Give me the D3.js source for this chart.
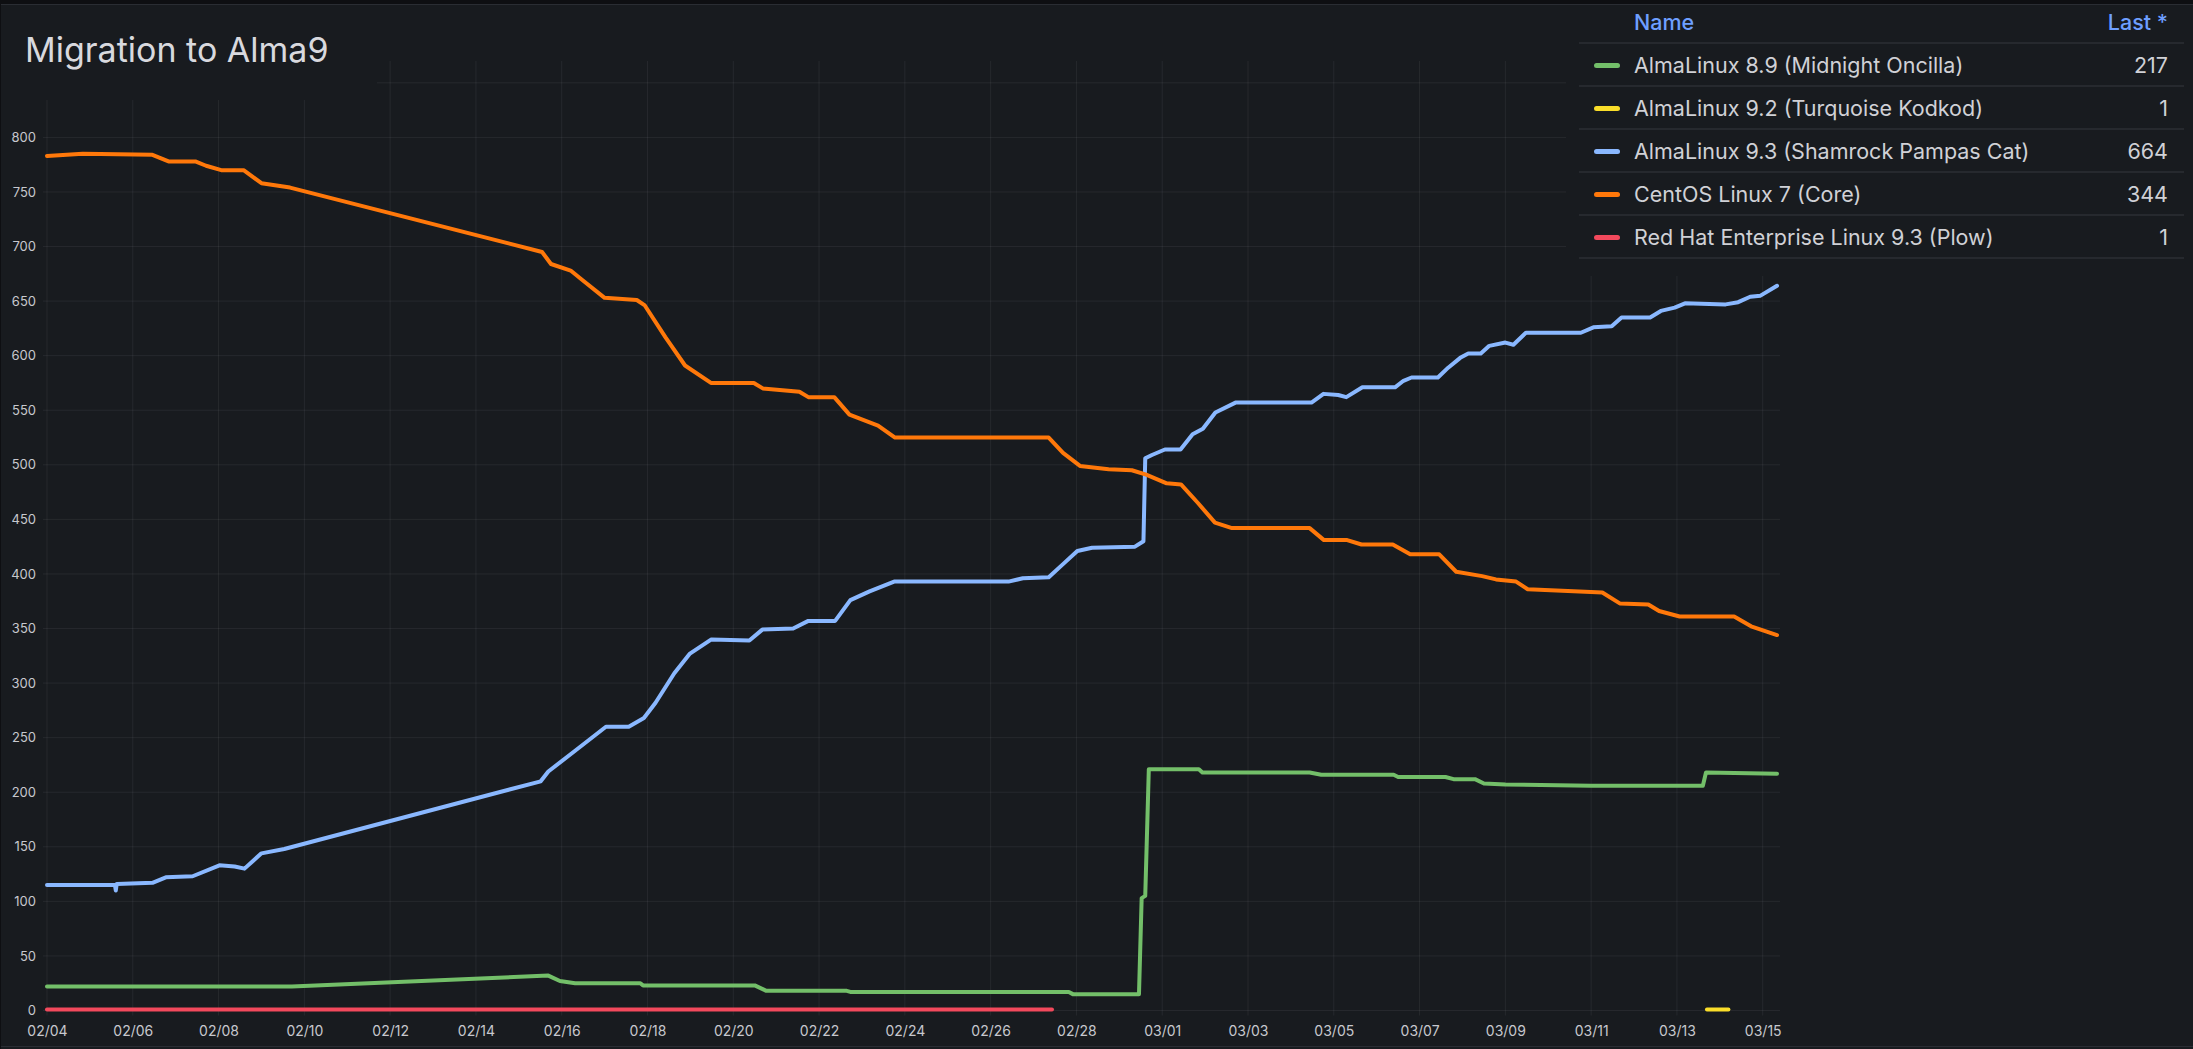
<!DOCTYPE html>
<html>
<head>
<meta charset="utf-8">
<script src="https://cdn.jsdelivr.net/npm/d3@7"></script>
<style>
html, body { margin: 0; padding: 0; background: #181b1f; overflow: hidden; }
svg { display: block; font-family: Inter, "Noto Sans", sans-serif; }
</style>
</head>
<body>
<div id="graph"></div>
<script>
// ---- data ----
var seriesNames = [
    "AlmaLinux 8.9 (Midnight Oncilla)",
    "AlmaLinux 9.2 (Turquoise Kodkod)",
    "AlmaLinux 9.3 (Shamrock Pampas Cat)",
    "CentOS Linux 7 (Core)",
    "Red Hat Enterprise Linux 9.3 (Plow)"
];
var seriesColors = ["#73bf69", "#fade2a", "#8ab8ff", "#ff780a", "#f2495c"];

var alma89Times = ["02-04 00:00","02-09 17:00","02-15 16:30","02-15 23:00","02-16 07:30","02-17 20:00","02-17 21:30",
    "02-20 12:00","02-20 18:30","02-22 15:30","02-22 17:30","02-27 19:45","02-27 22:00","02-29 11:00","02-29 12:30",
    "02-29 14:30","02-29 16:30","03-01 20:30","03-01 22:30","03-04 10:30","03-04 17:00","03-06 09:30","03-06 12:00",
    "03-07 14:30","03-07 19:00","03-08 07:00","03-08 12:00","03-09 00:00","03-11 00:00","03-13 14:30","03-13 16:15","03-15 08:00"];
var alma89Values = [22,22,32,27,25,25,23,23,18,18,17,17,15,15,103,105,221,221,218,218,216,216,214,214,212,212,208,207,206,206,218,217];

var alma92Times = ["03-13 16:48","03-14 04:48"];
var alma92Values = [1,1];

var alma93Times = ["02-04 00:00","02-05 14:00","02-05 14:30","02-05 15:00","02-06 11:00","02-06 18:30","02-07 09:30","02-08 00:30",
    "02-08 09:00","02-08 14:30","02-09 00:00","02-09 12:45","02-15 12:15","02-15 16:30","02-16 07:30","02-17 00:45","02-17 13:30",
    "02-17 22:00","02-18 04:30","02-18 15:00","02-18 23:45","02-19 11:45","02-20 09:00","02-20 16:15","02-21 09:30","02-21 18:00",
    "02-22 09:00","02-22 17:30","02-23 04:15","02-23 18:00","02-26 10:00","02-26 18:00","02-27 08:30","02-27 16:30","02-28 00:30",
    "02-28 08:45","02-29 08:45","02-29 13:30","02-29 14:30","02-29 18:15","03-01 01:30","03-01 10:15","03-01 17:00","03-01 22:45",
    "03-02 05:45","03-02 17:00","03-04 11:30","03-04 18:15","03-05 02:30","03-05 07:00","03-05 16:00","03-06 10:15","03-06 15:00",
    "03-06 19:30","03-07 10:15","03-07 16:00","03-07 22:45","03-08 03:15","03-08 10:15","03-08 15:00","03-09 00:00","03-09 04:30",
    "03-09 11:30","03-10 18:15","03-11 01:15","03-11 11:30","03-11 17:00","03-12 09:00","03-12 15:00","03-12 22:45","03-13 04:30",
    "03-14 03:15","03-14 10:15","03-14 17:00","03-14 22:45","03-15 08:00"];
var alma93Values = [115,115,110,116,117,122,123,133,132,130,144,148,210,219,238,260,260,268,282,309,327,340,339,349,350,357,
    357,376,384,393,393,396,397,409,421,424,425,430,506,509,514,514,528,533,548,557,557,565,564,562,571,571,577,580,580,589,
    598,602,602,609,612,610,621,621,626,627,635,635,641,644,648,647,649,654,655,664];

var centosTimes = ["02-04 00:00","02-04 20:00","02-06 11:00","02-06 20:00","02-07 11:00","02-07 17:00","02-08 01:30","02-08 14:00",
    "02-09 00:00","02-09 16:00","02-15 13:00","02-15 18:00","02-16 05:00","02-16 11:00","02-17 00:00","02-17 18:00","02-17 22:30",
    "02-18 10:00","02-18 21:00","02-19 11:30","02-20 11:30","02-20 16:30","02-21 13:00","02-21 18:00","02-22 08:30","02-22 17:00",
    "02-23 09:00","02-23 18:30","02-27 08:30","02-27 16:30","02-28 02:00","02-28 18:00","02-29 07:00","02-29 15:00","03-01 02:30",
    "03-01 10:30","03-01 20:00","03-02 05:30","03-02 15:00","03-04 10:30","03-04 18:30","03-05 07:30","03-05 15:30","03-06 09:00",
    "03-06 18:45","03-07 11:00","03-07 20:30","03-08 11:00","03-08 18:45","03-09 06:00","03-09 12:30","03-11 06:15","03-11 16:00",
    "03-12 08:00","03-12 14:00","03-13 01:30","03-14 08:00","03-14 17:30","03-15 08:00"];
var centosValues = [783,785,784,778,778,774,770,770,758,754,695,684,678,670,653,651,646,617,591,575,575,570,567,562,562,546,
    536,525,525,511,499,496,495,491,483,482,465,447,442,442,431,431,427,427,418,418,402,398,395,393,386,383,373,372,366,361,361,352,344];

var rhel93Times = ["02-04 00:00","02-27 10:20"];
var rhel93Values = [1,1];

var xTickLabels = ["02/04","02/06","02/08","02/10","02/12","02/14","02/16","02/18","02/20","02/22","02/24","02/26","02/28",
    "03/01","03/03","03/05","03/07","03/09","03/11","03/13","03/15"];
var yTicks = [0,50,100,150,200,250,300,350,400,450,500,550,600,650,700,750,800];
var yGrid = [0,50,100,150,200,250,300,350,400,450,500,550,600,650,700,750,800,850];

// ---- setup ----
var W = 2193, H = 1049;
var bg = "#181b1f";
var parse = d3.timeParse("%Y-%m-%d %H:%M");
function t(s) { return parse("2024-" + s); }

var plot = {left: 43, right: 1780, top: 61, bottom: 1010.5};

var x = d3.scaleTime()
    .domain([t("02-03 21:46"), t("03-15 09:40")])
    .range([plot.left, plot.right]);
var y = d3.scaleLinear()
    .domain([0, 870])
    .range([plot.bottom, plot.top]);

var series = [
    {times: alma89Times, values: alma89Values},
    {times: alma92Times, values: alma92Values},
    {times: alma93Times, values: alma93Values},
    {times: centosTimes, values: centosValues},
    {times: rhel93Times, values: rhel93Values}
].map(function(s, i) {
    return {
        name: seriesNames[i],
        color: seriesColors[i],
        points: s.times.map(function(tt, j) { return {t: t(tt), v: s.values[j]}; })
    };
});

var svg = d3.select("#graph")
    .append("svg")
        .attr("width", W)
        .attr("height", H);

svg.append("rect")
    .attr("width", W)
    .attr("height", H)
    .attr("fill", bg);

// grid
var tickDates = xTickLabels.map(function(l) { return t(l.replace("/", "-") + " 00:00"); });

svg.append("g").selectAll("line")
    .data(tickDates)
    .enter().append("line")
    .attr("x1", function(d) { return x(d); })
    .attr("x2", function(d) { return x(d); })
    .attr("y1", plot.top)
    .attr("y2", plot.bottom + 5)
    .attr("stroke", "rgba(204,204,220,0.08)")
    .attr("stroke-width", 1);

svg.append("g").selectAll("line")
    .data(yGrid)
    .enter().append("line")
    .attr("x1", plot.left)
    .attr("x2", plot.right)
    .attr("y1", function(d) { return y(d); })
    .attr("y2", function(d) { return y(d); })
    .attr("stroke", "rgba(204,204,220,0.08)")
    .attr("stroke-width", 1);

// axes (labels only)
var xAxis = d3.axisBottom(x)
    .tickValues(tickDates)
    .tickFormat(d3.timeFormat("%m/%d"))
    .tickSize(0)
    .tickPadding(0);

var gx = svg.append("g")
    .attr("transform", "translate(0," + 1031 + ")")
    .call(xAxis);
gx.select(".domain").remove();
gx.selectAll("text")
    .attr("dy", "0.35em")
    .attr("y", 0)
    .style("font-size", "14px")
    .style("font-family", "Inter, sans-serif")
    .attr("fill", "#c7c8ce");

var yAxis = d3.axisLeft(y)
    .tickValues(yTicks)
    .tickSize(0)
    .tickPadding(0);

var gy = svg.append("g")
    .attr("transform", "translate(36,0)")
    .call(yAxis);
gy.select(".domain").remove();
gy.selectAll("text")
    .style("font-size", "13px")
    .style("font-family", "Inter, sans-serif")
    .attr("fill", "#c7c8ce");

// lines
var valueline = d3.line()
    .x(function(d) { return x(d.t); })
    .y(function(d) { return y(d.v); });

svg.append("g").selectAll("path")
    .data(series)
    .enter().append("path")
    .attr("d", function(d) { return valueline(d.points); })
    .attr("fill", "none")
    .attr("stroke", function(d) { return d.color; })
    .attr("stroke-width", 4)
    .attr("stroke-linejoin", "round")
    .attr("stroke-linecap", "round");

// title header (covers top-left of the plot)
svg.append("rect")
    .attr("x", 0).attr("y", 0)
    .attr("width", 377).attr("height", 100)
    .attr("fill", bg);

svg.append("text")
    .attr("x", 25)
    .attr("y", 62)
    .attr("fill", "#d8d9de")
    .style("font-size", "34px")
    .style("font-weight", 400)
    .text("Migration to Alma9");

// legend table (covers top-right of the plot)
svg.append("rect")
    .attr("x", 1566).attr("y", 0)
    .attr("width", W - 1566).attr("height", 276)
    .attr("fill", bg);

var legend = svg.append("g");
var rowH = 43, headY = 22, firstRow = 65.5;
var legendFont = "21.5px";

legend.append("text")
    .attr("x", 1634).attr("y", headY)
    .attr("dy", "0.35em")
    .attr("fill", "#6e9fff")
    .style("font-size", legendFont)
    .style("font-weight", 500)
    .text("Name");

legend.append("text")
    .attr("x", 2168).attr("y", headY)
    .attr("dy", "0.35em")
    .attr("text-anchor", "end")
    .attr("fill", "#6e9fff")
    .style("font-size", legendFont)
    .style("font-weight", 500)
    .text("Last *");

legend.selectAll(".sep")
    .data(d3.range(6))
    .enter().append("line")
    .attr("class", "sep")
    .attr("x1", 1579).attr("x2", 2184)
    .attr("y1", function(i) { return 43 + i * rowH; })
    .attr("y2", function(i) { return 43 + i * rowH; })
    .attr("stroke", "#2b2f35")
    .attr("stroke-width", 1.5);

var row = legend.selectAll(".row")
    .data(series)
    .enter().append("g")
    .attr("class", "row")
    .attr("transform", function(d, i) { return "translate(0," + (firstRow + i * rowH) + ")"; });

row.append("rect")
    .attr("x", 1594).attr("y", -2.5)
    .attr("width", 26).attr("height", 5)
    .attr("rx", 2.5)
    .attr("fill", function(d) { return d.color; });

row.append("text")
    .attr("x", 1634)
    .attr("dy", "0.35em")
    .attr("fill", "#d0d1d6")
    .style("font-size", legendFont)
    .text(function(d) { return d.name; });

row.append("text")
    .attr("x", 2168)
    .attr("dy", "0.35em")
    .attr("text-anchor", "end")
    .attr("fill", "#d0d1d6")
    .style("font-size", legendFont)
    .text(function(d) { return d.points[d.points.length - 1].v; });

// panel edges
svg.append("rect").attr("x", 0).attr("y", 0).attr("width", W).attr("height", 4).attr("fill", "#0e0f12");
svg.append("line").attr("x1", 0).attr("x2", W).attr("y1", 4.5).attr("y2", 4.5).attr("stroke", "#2a2d33");
svg.append("line").attr("x1", 0).attr("x2", W).attr("y1", 1046.5).attr("y2", 1046.5).attr("stroke", "#2a2d33");
svg.append("line").attr("x1", 0.5).attr("x2", 0.5).attr("y1", 4).attr("y2", H).attr("stroke", "#0e0f12");
</script>
</body>
</html>
